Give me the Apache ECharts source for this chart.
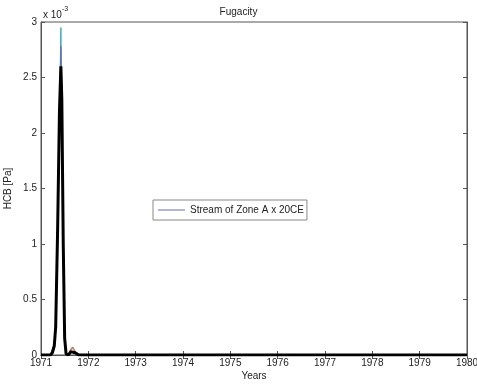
<!DOCTYPE html>
<html><head><meta charset="utf-8">
<script src="https://cdn.jsdelivr.net/npm/echarts@6/dist/echarts.min.js"></script>
<style>html,body{margin:0;padding:0;background:#fff}#c{width:477px;height:385px}</style>
</head><body><div id="c"></div>
<script>
// Years (time axis)
const years = [1971, 1971.2, 1971.24, 1971.28, 1971.31, 1971.35, 1971.39, 1971.42, 1971.44, 1971.47, 1971.5, 1971.53, 1971.58, 1971.63, 1971.67, 1971.72, 1971.8, 1972, 1980];
// Fugacity values in Pa
const blackSeries = [0, 0, 0.00002, 0.00008, 0.00025, 0.0011, 0.0022, 0.0026, 0.0023, 0.0010, 0.00015, 0.00001, 0, 0.00003, 0.00004, 0.00002, 0, 0, 0];
const tealSeries  = [0, 0, 0.00002, 0.00008, 0.00025, 0.0011, 0.0022, 0.00295, 0.0023, 0.0010, 0.00015, 0.00001, 0, 0.00003, 0.00004, 0.00002, 0, 0, 0];
const zoneASeries = [0, 0, 0.00002, 0.00008, 0.00025, 0.0011, 0.0022, 0.00278, 0.0023, 0.0010, 0.00015, 0.00001, 0, 0.00003, 0.00004, 0.00002, 0, 0, 0];
const brownSeries = [0, 0, 0.00005, 0.0001, 0.00025, 0.0011, 0.0022, 0.0026, 0.0023, 0.0010, 0.00015, 0.00001, 0, 0.00005, 0.00007, 0.00003, 0, 0, 0];
const yearTicks = [1971, 1972, 1973, 1974, 1975, 1976, 1977, 1978, 1979, 1980];
const legendName = 'Stream of Zone A x 20CE';

const pair = arr => years.map((x, i) => [x, arr[i]]);
const font = 'Liberation Sans, Arial, sans-serif';
const chart = echarts.init(document.getElementById('c'));
const tickStyle = { show: true, inside: true, length: 4, lineStyle: { color: '#555', width: 1 } };
chart.setOption({
  animation: false,
  backgroundColor: '#fff',
  title: { text: 'Fugacity', left: 'center', top: 2, textStyle: { fontFamily: font, fontSize: 10, fontWeight: 'normal', color: '#222' } },
  grid: { left: 41, right: 10, top: 22, bottom: 30, containLabel: false, outerBoundsMode: 'none', show: true, borderColor: '#555', borderWidth: 1 },
  legend: {
    show: true,
    data: [legendName],
    icon: 'rect',
    left: 153, top: 200, itemWidth: 27, itemHeight: 1, itemGap: 4,
    backgroundColor: '#fff', borderColor: '#888', borderWidth: 1, padding: [5, 3, 5, 5], borderRadius: 0,
    textStyle: { fontFamily: font, fontSize: 10, color: '#222' }
  },
  xAxis: [
    { type: 'value', min: 1971, max: 1980, interval: 1,
      name: 'Years', nameLocation: 'middle', nameGap: 16, nameMoveOverlap: false,
      nameTextStyle: { fontFamily: font, fontSize: 10, color: '#222' },
      axisLine: { show: true, lineStyle: { color: '#555' } }, axisTick: tickStyle,
      axisLabel: { fontFamily: font, fontSize: 10, color: '#222', margin: 3, formatter: v => String(v) },
      splitLine: { show: false } },
    { type: 'value', position: 'top', min: 1971, max: 1980, interval: 1,
      axisLine: { show: true, lineStyle: { color: '#555' } }, axisTick: tickStyle,
      axisLabel: { show: false }, splitLine: { show: false } }
  ],
  yAxis: [
    { type: 'value', min: 0, max: 0.003, interval: 0.0005,
      name: 'HCB [Pa]', nameLocation: 'middle', nameGap: 28, nameRotate: 90, nameMoveOverlap: false,
      nameTextStyle: { fontFamily: font, fontSize: 10, color: '#222' },
      axisLine: { show: true, lineStyle: { color: '#555' } }, axisTick: tickStyle,
      axisLabel: { fontFamily: font, fontSize: 10, color: '#222', margin: 4, formatter: v => String(Math.round(v * 10000) / 10) },
      splitLine: { show: false } },
    { type: 'value', position: 'right', min: 0, max: 0.003, interval: 0.0005,
      axisLine: { show: true, lineStyle: { color: '#555' } }, axisTick: tickStyle,
      axisLabel: { show: false }, splitLine: { show: false } }
  ],
  graphic: [{
    type: 'text', left: 43, top: 6,
    style: { text: '{a|x 10}{b|-3}', rich: { a: { fontFamily: font, fontSize: 10, fill: '#222', padding: [4, 0, 0, 0] }, b: { fontFamily: font, fontSize: 7, fill: '#222', verticalAlign: 'top' } } }
  }],
  series: [
    { name: 'teal', type: 'line', data: pair(tealSeries), showSymbol: false, lineStyle: { color: '#3aa8b8', width: 1 }, itemStyle: { color: '#3aa8b8' }, z: 2 },
    { name: legendName, type: 'line', data: pair(zoneASeries), showSymbol: false, lineStyle: { color: '#6b6bb5', width: 1 }, itemStyle: { color: '#6b6bb5' }, z: 3 },
    { name: 'brown', type: 'line', data: pair(brownSeries), showSymbol: false, lineStyle: { color: '#c07a5a', width: 1.5 }, itemStyle: { color: '#c07a5a' }, z: 3 },
    { name: 'black', type: 'line', data: pair(blackSeries), showSymbol: false, lineStyle: { color: '#000', width: 3 }, itemStyle: { color: '#000' }, z: 4 }
  ]
});
</script></body></html>
